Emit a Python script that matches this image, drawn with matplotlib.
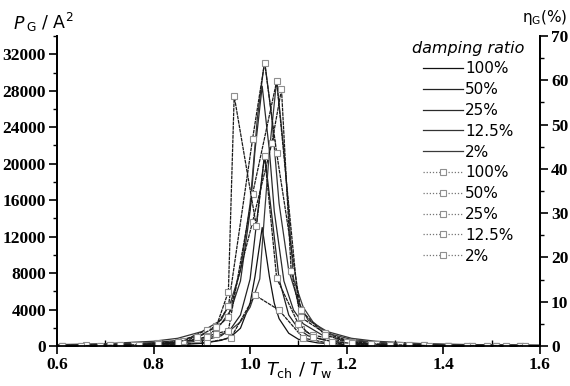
import numpy as np
import matplotlib.pyplot as plt
from matplotlib.ticker import MultipleLocator
from matplotlib.lines import Line2D

labels = ['100%', '50%', '25%', '12.5%', '2%']

# P_G (solid lines, left axis)
p100_x = [0.60, 0.70, 0.80, 0.85, 0.90, 0.94, 0.96, 0.98, 1.00, 1.01, 1.025, 1.04, 1.05, 1.06, 1.08, 1.10, 1.14, 1.20, 1.30, 1.45, 1.60]
p100_y = [20, 40, 90, 150, 290, 620, 1000, 1950, 4700, 7600, 13000, 7600, 4700, 3000, 1400, 740, 340, 150, 60, 25, 15]

p50_x = [0.60, 0.70, 0.80, 0.85, 0.90, 0.94, 0.96, 0.98, 1.00, 1.015, 1.03, 1.045, 1.06, 1.08, 1.10, 1.12, 1.16, 1.20, 1.30, 1.45, 1.60]
p50_y = [55, 93, 190, 305, 570, 1120, 1890, 3400, 7340, 14300, 21000, 14300, 7340, 3400, 1890, 1120, 570, 340, 138, 57, 31]

p25_x = [0.60, 0.70, 0.80, 0.85, 0.90, 0.94, 0.96, 0.98, 1.00, 1.01, 1.025, 1.04, 1.05, 1.07, 1.09, 1.11, 1.15, 1.20, 1.30, 1.45, 1.60]
p25_y = [106, 181, 371, 615, 1180, 2440, 3930, 7130, 14800, 21400, 28500, 21400, 14800, 7130, 3930, 2440, 1180, 615, 250, 106, 58]

p12_x = [0.60, 0.70, 0.80, 0.85, 0.90, 0.94, 0.96, 0.98, 1.00, 1.015, 1.03, 1.045, 1.06, 1.08, 1.10, 1.12, 1.16, 1.21, 1.26, 1.36, 1.46, 1.60]
p12_y = [152, 257, 523, 846, 1580, 2850, 4860, 8280, 15650, 25000, 31300, 25000, 15650, 8280, 4860, 2850, 1580, 846, 523, 257, 152, 87]

p2_x = [0.60, 0.70, 0.80, 0.85, 0.90, 0.94, 0.96, 0.98, 1.00, 1.02, 1.03, 1.04, 1.055, 1.07, 1.08, 1.09, 1.11, 1.13, 1.15, 1.17, 1.21, 1.26, 1.31, 1.41, 1.51, 1.60]
p2_y = [88, 143, 276, 421, 722, 1260, 1780, 2650, 4260, 7360, 14600, 21400, 29150, 21400, 14600, 7360, 4260, 2650, 1780, 1260, 722, 421, 276, 143, 88, 61]

# eta_G (dotted lines with squares, right axis)
e100_x = [0.61, 0.66, 0.71, 0.76, 0.81, 0.86, 0.91, 0.96, 1.01, 1.06, 1.11, 1.16, 1.21, 1.26, 1.31, 1.36, 1.41, 1.46, 1.51, 1.56]
e100_y = [0.1, 0.1, 0.1, 0.2, 0.2, 0.4, 0.8, 1.8, 11.5, 8.1, 1.8, 0.7, 0.4, 0.2, 0.1, 0.1, 0.1, 0.1, 0.1, 0.1]

e50_x = [0.65, 0.69, 0.73, 0.77, 0.81, 0.85, 0.89, 0.93, 0.955, 1.005, 1.055, 1.105, 1.13, 1.17, 1.21, 1.25, 1.29, 1.33, 1.37, 1.41, 1.45, 1.49, 1.53, 1.57]
e50_y = [0.1, 0.1, 0.2, 0.2, 0.4, 0.8, 1.5, 2.8, 3.5, 34.3, 59.8, 3.8, 2.5, 1.5, 0.8, 0.4, 0.3, 0.2, 0.1, 0.1, 0.1, 0.1, 0.1, 0.1]

e25_x = [0.61, 0.66, 0.71, 0.76, 0.81, 0.86, 0.91, 0.955, 1.005, 1.045, 1.065, 1.085, 1.105, 1.155, 1.21, 1.26, 1.31, 1.36, 1.41, 1.46, 1.51, 1.56]
e25_y = [0.1, 0.1, 0.2, 0.2, 0.5, 1.0, 2.0, 6.6, 28.0, 45.8, 58.0, 17.0, 6.5, 2.9, 1.0, 0.5, 0.3, 0.2, 0.1, 0.1, 0.1, 0.1]

e12_x = [0.61, 0.66, 0.71, 0.76, 0.81, 0.86, 0.91, 0.93, 0.955, 1.005, 1.03, 1.055, 1.105, 1.155, 1.20, 1.25, 1.31, 1.36, 1.41, 1.46, 1.51, 1.56]
e12_y = [0.1, 0.2, 0.2, 0.3, 0.6, 1.2, 3.6, 4.5, 9.0, 46.7, 64.0, 43.6, 8.1, 2.5, 1.0, 0.5, 0.3, 0.2, 0.1, 0.1, 0.1, 0.1]

e2_x = [0.65, 0.69, 0.73, 0.77, 0.81, 0.85, 0.89, 0.93, 0.955, 0.967, 1.013, 1.03, 1.055, 1.10, 1.13, 1.17, 1.21, 1.25, 1.29, 1.33, 1.37, 1.41, 1.45, 1.49, 1.53, 1.57]
e2_y = [0.1, 0.1, 0.2, 0.3, 0.4, 0.9, 2.0, 4.4, 12.3, 56.5, 27.0, 43.0, 15.3, 5.0, 2.0, 1.0, 0.6, 0.4, 0.3, 0.2, 0.1, 0.1, 0.1, 0.1, 0.1, 0.1]

p_series = [(p100_x, p100_y), (p50_x, p50_y), (p25_x, p25_y), (p12_x, p12_y), (p2_x, p2_y)]
e_series = [(e100_x, e100_y), (e50_x, e50_y), (e25_x, e25_y), (e12_x, e12_y), (e2_x, e2_y)]
solid_cols = ['#111111', '#222222', '#2a2a2a', '#333333', '#3a3a3a']
dot_style = dict(ls=(0, (3, 0.6)), color='#1a1a1a', lw=0.9, marker='s', ms=4.5,
                 mfc='white', mec='#8f8f8f', mew=0.8)

tickfont = {'family': 'Liberation Serif', 'weight': 'bold', 'size': 12.5}

fig = plt.figure(figsize=(5.7, 3.86), dpi=100)
ax = fig.add_axes([0.1, 0.1036, 0.847, 0.803])
ax2 = ax.twinx()

for (x, y), c in zip(p_series, solid_cols):
    ax.plot(x, y, '-', color=c, lw=0.9)

for x, y in e_series:
    ax2.plot(x, y, **dot_style)

ax.set_xlim(0.6, 1.6)
ax.set_ylim(0, 34000)
ax2.set_ylim(0, 70)

ax.xaxis.set_major_locator(MultipleLocator(0.2))
ax.xaxis.set_minor_locator(MultipleLocator(0.1))
ax.yaxis.set_major_locator(MultipleLocator(4000))
ax.yaxis.set_minor_locator(MultipleLocator(2000))
ax2.yaxis.set_major_locator(MultipleLocator(10))
ax2.yaxis.set_minor_locator(MultipleLocator(5))

ax.tick_params(axis='y', which='major', direction='out', length=6, width=1.2, pad=2)
ax.tick_params(axis='y', which='minor', direction='out', length=3, width=1)
ax.tick_params(axis='x', which='major', direction='out', length=6, width=1.2, pad=2)
ax.tick_params(axis='x', which='minor', direction='in', length=4, width=1)
ax2.tick_params(axis='y', which='major', direction='out', length=6, width=1.2, pad=2)
ax2.tick_params(axis='y', which='minor', direction='out', length=3, width=1)

ax.set_xticks([0.6, 0.8, 1.0, 1.2, 1.4, 1.6])
ax.set_xticklabels(['0.6', '0.8', '1.0', '1.2', '1.4', '1.6'], fontdict=tickfont)
ax.set_yticklabels([f'{int(v)}' for v in ax.get_yticks()], fontdict=tickfont)
ax2.set_yticklabels([f'{int(v)}' for v in ax2.get_yticks()], fontdict=tickfont)

for a in (ax, ax2):
    for s in a.spines.values():
        s.set_linewidth(1.3)
ax.spines['top'].set_visible(False)
ax2.spines['top'].set_visible(False)

fig.text(0.022, 0.925, r'$P$', fontsize=12.5, ha='left', va='baseline')
fig.text(0.045, 0.925, r'$_{\mathrm{G}}$ / A$^2$', fontsize=12.5, ha='left', va='baseline')
fig.text(0.995, 0.955, r'$\mathrm{\eta}_{\mathrm{G}}$(%)', fontsize=11, ha='right', va='center')
fig.text(0.525, 0.042, r'$T_{\mathrm{ch}}$ / $T_{\mathrm{w}}$', fontsize=13, ha='center', va='center')

handles = [Line2D([], [], color=c, lw=0.9) for c in solid_cols]
handles += [Line2D([], [], **dict(dot_style, ls=(0, (1, 1.5)), color='#777777')) for _ in labels]
leg = ax2.legend(handles, labels + labels, title='damping ratio', loc='upper right',
                 bbox_to_anchor=(0.99, 1.02), frameon=False, fontsize=11,
                 handlelength=2.6, handletextpad=0.15, labelspacing=0.38,
                 borderaxespad=0.3)
leg.get_title().set_fontstyle('italic')
leg.get_title().set_fontsize(11.5)

fig.savefig('out.png', dpi=100)
